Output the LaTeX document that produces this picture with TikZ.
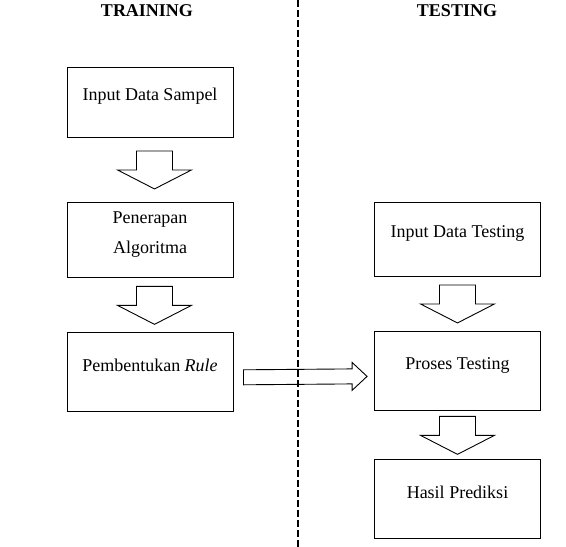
\documentclass[tikz,border=0pt]{standalone}
\usepackage{fontspec}
\setmainfont{Liberation Serif}
\usetikzlibrary{positioning,calc}
\begin{document}
\begin{tikzpicture}[x=1pt,y=-1pt,
		kotak/.style={draw,line width=0.9pt,minimum width=166pt,align=center,
			text depth=15pt,font=\fontsize{18}{30}\selectfont},
		panah/.style={draw,line width=0.9pt,fill=white,line join=miter},
		judul/.style={anchor=base,font=\fontsize{18}{22}\selectfont\bfseries}]
		\useasboundingbox (0,0) rectangle (566,547);
		\node[judul] (train) at (147,16) {TRAINING};
		\node[judul] (test) at (457,16) {TESTING};
		% kiri
		\node[kotak,minimum height=70pt] (sampel) at (150,102) {Input Data Sampel};
		\node[kotak,minimum height=75pt,below=65pt of sampel] (algo) {Penerapan\\Algoritma};
		\node[kotak,minimum height=79pt,below=54pt of algo] (rule) {Pembentukan \textit{Rule}};
		% kanan
		\node[kotak,minimum height=74pt] (testing) at (457.5,239) {Input Data Testing};
		\node[kotak,minimum height=79pt,below=55pt of testing] (proses) {Proses Testing};
		\node[kotak,minimum height=79pt,below=48pt of proses] (hasil) {Hasil Prediksi};
		% panah ke bawah
		\foreach \a/\b/\dx in {sampel/algo/4.5,algo/rule/4.5,testing/proses/0,proses/hasil/0}{
			\coordinate (m) at ([xshift=\dx pt]$(\a.south)!0.5!(\b.north)$);
			\draw[panah] ([xshift=-18pt,yshift=19pt]m) -- ++(36pt,0pt) -- ++(0pt,-19pt)%
			-- ++(19pt,0pt) -- ++(-37pt,-19pt) -- ++(-37pt,19pt) -- ++(19pt,0pt) -- cycle;
		}
		% panah ke kanan
		\coordinate (a) at ([xshift=10pt,yshift=-5pt]rule.east);
		\coordinate (b) at ([xshift=-7pt,yshift=-5pt]proses.west);
		\draw[panah] ([yshift=7.5pt]a) -- ([xshift=-15pt,yshift=7.5pt]b) -- ([xshift=-15pt,yshift=14pt]b)%
		-- (b) -- ([xshift=-15pt,yshift=-14pt]b) -- ([xshift=-15pt,yshift=-7.5pt]b) -- ([yshift=-7.5pt]a) -- cycle;
		% garis pemisah
		\draw[line width=2pt,dash pattern=on 7pt off 3pt] (298,0) -- (298,547);
\end{tikzpicture}
\end{document}
